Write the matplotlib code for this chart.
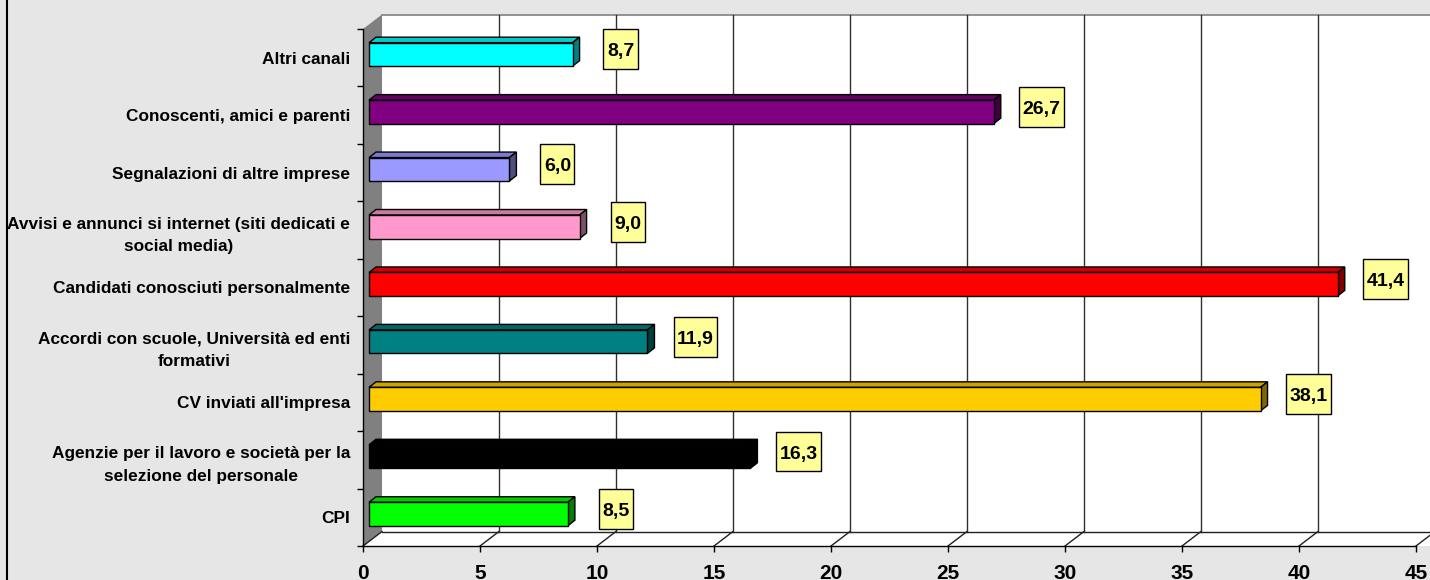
import numpy as np
import matplotlib
matplotlib.use('Agg')
import matplotlib.pyplot as plt
from matplotlib.patches import Rectangle, Polygon
from matplotlib.path import Path
from matplotlib.lines import Line2D
from matplotlib.colors import to_rgb

plt.rcParams['font.family'] = ['Liberation Sans', 'DejaVu Sans']

# data, bottom to top
categories = ['CPI',
              'Agenzie per il lavoro e società per la\nselezione del personale',
              "CV inviati all'impresa",
              'Accordi con scuole, Università ed enti\nformativi',
              'Candidati conosciuti personalmente',
              'Avvisi e annunci si internet (siti dedicati e\nsocial media)',
              'Segnalazioni di altre imprese',
              'Conoscenti, amici e parenti',
              'Altri canali']
values = [8.5, 16.3, 38.1, 11.9, 41.4, 9.0, 6.0, 26.7, 8.7]
colors = ['#00FF00', '#000000', '#FFCC00', '#008080', '#FF0000',
          '#FF99CC', '#9999FF', '#800080', '#00FFFF']
xticks = list(range(0, 50, 5))


def shade(c, f):
    r, g, b = to_rgb(c)
    return (r * f, g * f, b * f)


def label_box(x0, y0, width, height, mutation_size):
    # narrow on the sides, tall above/below like the Excel labels
    px = 0.18 * mutation_size
    pt = 0.72 * mutation_size
    pb = 0.46 * mutation_size
    verts = [(x0 - px, y0 - pb), (x0 + width + px, y0 - pb),
             (x0 + width + px, y0 + height + pt), (x0 - px, y0 + height + pt),
             (x0 - px, y0 - pb)]
    return Path(verts, closed=True)


fig = plt.figure(figsize=(14.3, 5.8), dpi=100)
fig.patch.set_facecolor('#e6e6e6')
fig.add_artist(Line2D([7 / 1430] * 2, [0, 1], transform=fig.transFigure,
                      color='black', lw=1.5))

ax = fig.add_axes([363 / 1430, 34 / 580, 1053 / 1430, 517 / 580])
ax.set_xlim(0, 45)
ax.set_ylim(-0.5, 8.5)
ax.patch.set_visible(False)
for s in ['top', 'right']:
    ax.spines[s].set_visible(False)
for s in ['left', 'bottom']:
    ax.spines[s].set_color('black')
    ax.spines[s].set_linewidth(1)
    ax.spines[s].set_zorder(4)

# pixel -> data units
kx = 45 / 1053
ky = 9 / 517
DX, DY = 19 * kx, 14.5 * ky

# back wall
ax.add_patch(Rectangle((DX, -0.5 + DY), 50, 9, fc='white', ec='none',
                       clip_on=False, zorder=0))
ax.plot([DX, 50], [8.5 + DY] * 2, color='#808080', lw=1.2, clip_on=False, zorder=1)
# left wall
ax.add_patch(Polygon([(0, -0.5), (0, 8.5), (DX, 8.5 + DY), (DX, -0.5 + DY)],
                     fc='#808080', ec='none', clip_on=False, zorder=1))
# floor
ax.add_patch(Polygon([(0, -0.5), (50, -0.5), (50, -0.5 + DY), (DX, -0.5 + DY)],
                     fc='white', ec='none', clip_on=False, zorder=0))
ax.plot([DX, 50], [-0.5 + DY] * 2, color='#202020', lw=1, clip_on=False, zorder=1)
# gridlines on back wall and floor
for v in xticks:
    if v > 0:
        ax.plot([v + DX] * 2, [-0.5 + DY, 8.5 + DY], color='#303030', lw=1,
                clip_on=False, zorder=1)
    ax.plot([v, v + DX], [-0.5, -0.5 + DY], color='#202020', lw=1,
            clip_on=False, zorder=1)

# 3D bars
x0 = 6 * kx
h = 23.5 * ky
bdx, bdy = 7 * kx, 5.5 * ky
for i, (v, c) in enumerate(zip(values, colors)):
    yc = i + 3.3 * ky
    yb, yt = yc - h / 2, yc + h / 2
    ax.add_patch(Polygon([(x0, yt), (x0 + v, yt), (x0 + v + bdx, yt + bdy),
                          (x0 + bdx, yt + bdy)],
                         fc=shade(c, 0.8), ec='black', lw=1, zorder=3))
    ax.add_patch(Polygon([(x0 + v, yb), (x0 + v + bdx, yb + bdy),
                          (x0 + v + bdx, yt + bdy), (x0 + v, yt)],
                         fc=shade(c, 0.5), ec='black', lw=1, zorder=3))
    ax.add_patch(Rectangle((x0, yb), v, h, fc=c, ec='black', lw=1, zorder=3))
    ax.annotate(f'{v:.1f}'.replace('.', ','), xy=(x0 + v, yc),
                xytext=(48 * 0.72, 2.5 * 0.72), textcoords='offset points',
                ha='center', va='center', fontsize=14, fontweight='bold',
                bbox=dict(boxstyle=label_box, fc='#FFFF99', ec='black', lw=1),
                zorder=5)

# axes ticks
ax.set_yticks(np.arange(-0.5, 9, 1))
ax.set_yticklabels([])
ax.set_yticks(range(len(categories)), minor=True)
ax.set_yticklabels(categories, minor=True, fontsize=12.4, fontweight='bold',
                   multialignment='center', linespacing=1.65)
ax.tick_params(axis='y', which='major', length=4.3, width=1, color='black')
ax.tick_params(axis='y', which='minor', length=0, pad=9.4)

ax.set_xticks(xticks)
ax.set_xticklabels([str(t) for t in xticks], fontsize=15, fontweight='bold')
ax.tick_params(axis='x', which='major', length=4.3, width=1, color='black', pad=8.5)

fig.savefig('out.png', dpi=100, facecolor=fig.get_facecolor())
